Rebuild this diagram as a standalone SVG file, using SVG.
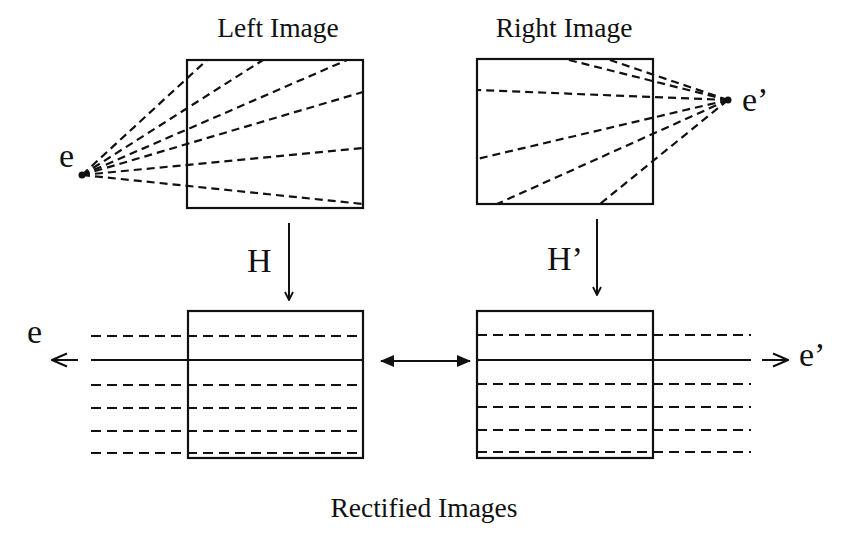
<svg xmlns="http://www.w3.org/2000/svg" width="850" height="554" viewBox="0 0 850 554">
<defs>
<style>
.box{fill:none;stroke:#111;stroke-width:2.2}
.ray{fill:none;stroke:#111;stroke-width:2.2;stroke-dasharray:8 5}
.hd{fill:none;stroke:#111;stroke-width:2.2;stroke-dasharray:10 6}
.sol{fill:none;stroke:#111;stroke-width:2}
.lbl{font-family:"Liberation Serif","Times New Roman",serif;font-size:27.5px;fill:#111}
.sym{font-family:"Liberation Serif","Times New Roman",serif;font-size:34px;fill:#111}
</style>
<marker id="open" viewBox="0 0 10 10" refX="9" refY="5" markerWidth="10" markerHeight="10" markerUnits="userSpaceOnUse" orient="auto">
<path d="M1,1 L9,5 L1,9" fill="none" stroke="#111" stroke-width="1.8"/>
</marker>
<marker id="chev" viewBox="0 0 18 16" refX="17" refY="8" markerWidth="18" markerHeight="16" markerUnits="userSpaceOnUse" orient="auto">
<path d="M2,1.5 L17,8 L2,14.5" fill="none" stroke="#111" stroke-width="2"/>
</marker>
<marker id="solid" viewBox="0 0 14 12" refX="13" refY="6" markerWidth="14" markerHeight="12" markerUnits="userSpaceOnUse" orient="auto-start-reverse">
<path d="M0,0 L14,6 L0,12 Z" fill="#111"/>
</marker>
</defs>
<rect width="850" height="554" fill="#fff"/>

<g id="left-image">
<text class="lbl" x="278" y="37" text-anchor="middle">Left Image</text>
<rect class="box" x="187" y="60" width="176" height="148"/>
<text class="sym" x="59" y="167">e</text>
<circle cx="82" cy="175" r="3.5" fill="#111"/>
<g class="ray">
<line x1="82" y1="175" x2="207" y2="60"/>
<line x1="82" y1="175" x2="263" y2="60"/>
<line x1="82" y1="175" x2="347" y2="60"/>
<line x1="82" y1="175" x2="363" y2="92"/>
<line x1="82" y1="175" x2="363" y2="148"/>
<line x1="82" y1="175" x2="363" y2="204"/>
</g>
</g>

<g id="right-image">
<text class="lbl" x="564" y="37" text-anchor="middle">Right Image</text>
<rect class="box" x="477" y="59" width="176" height="145"/>
<text class="sym" x="742" y="111">e’</text>
<circle cx="728" cy="100" r="3.5" fill="#111"/>
<g class="ray">
<line x1="728" y1="100" x2="565" y2="59"/>
<line x1="728" y1="100" x2="610" y2="60"/>
<line x1="728" y1="100" x2="477" y2="90"/>
<line x1="728" y1="100" x2="477" y2="159"/>
<line x1="728" y1="100" x2="497" y2="204"/>
<line x1="728" y1="100" x2="600" y2="204"/>
</g>
</g>

<g id="rect-left">
<rect class="box" x="188" y="311" width="175" height="147"/>
<g class="hd">
<line x1="91" y1="336" x2="363" y2="336"/>
<line x1="91" y1="385" x2="363" y2="385"/>
<line x1="91" y1="408" x2="363" y2="408"/>
<line x1="91" y1="431" x2="363" y2="431"/>
<line x1="91" y1="453" x2="363" y2="453"/>
</g>
<line class="sol" x1="91" y1="360" x2="363" y2="360"/>
<text class="sym" x="27" y="343">e</text>
</g>

<g id="rect-right">
<rect class="box" x="477" y="311" width="176" height="147"/>
<g class="hd">
<line x1="477" y1="335" x2="751" y2="335"/>
<line x1="477" y1="384" x2="751" y2="384"/>
<line x1="477" y1="407" x2="751" y2="407"/>
<line x1="477" y1="430" x2="751" y2="430"/>
<line x1="477" y1="452" x2="751" y2="452"/>
</g>
<line class="sol" x1="477" y1="360" x2="751" y2="360"/>
<text class="sym" x="799" y="366">e’</text>
</g>

<g id="connectors">
<line class="sol" x1="289" y1="223" x2="289" y2="300" marker-end="url(#open)"/>
<text class="sym" x="247" y="272">H</text>
<line class="sol" x1="597" y1="219" x2="597" y2="295" marker-end="url(#open)"/>
<text class="sym" x="547" y="270">H’</text>
<line class="sol" x1="381" y1="361" x2="470" y2="361" marker-start="url(#solid)" marker-end="url(#solid)"/>
<line class="sol" x1="78" y1="360" x2="52" y2="360" marker-end="url(#chev)"/>
<line class="sol" x1="762" y1="360" x2="788" y2="360" marker-end="url(#chev)"/>
</g>

<text class="lbl" x="424" y="517" text-anchor="middle">Rectified Images</text>
</svg>
